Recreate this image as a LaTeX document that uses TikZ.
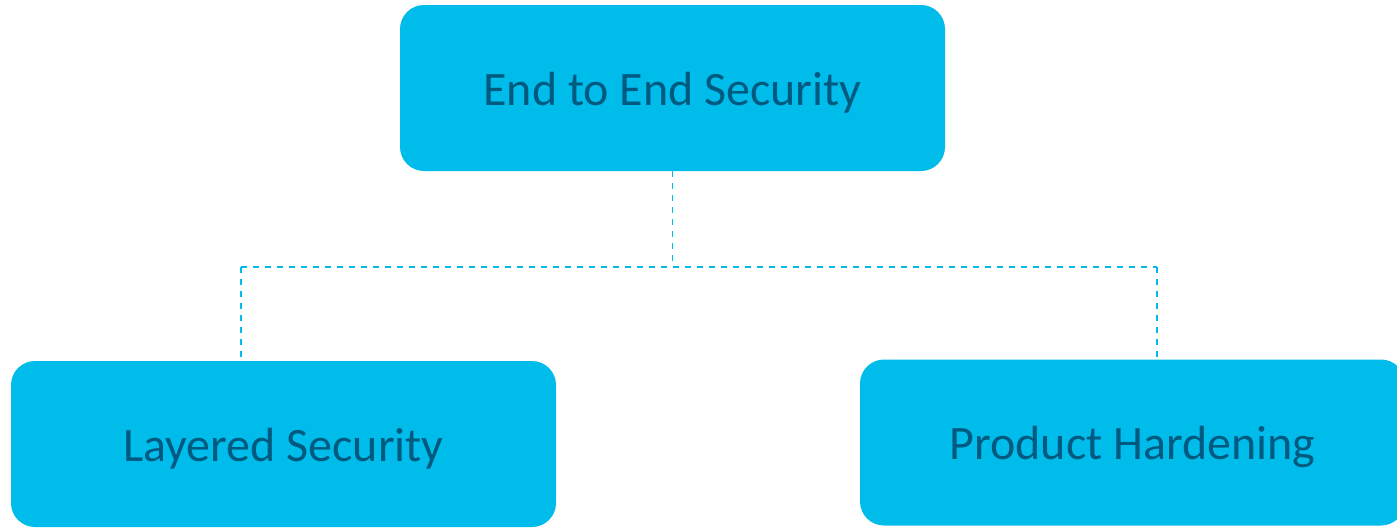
\documentclass[tikz,border=0pt]{standalone}
\usepackage{fontspec}
\setmainfont{Carlito}
\usepackage{tikz}

\definecolor{boxblue}{HTML}{00BCEB}
\definecolor{textblue}{HTML}{005A80}

\tikzset{
  secbox/.style={draw=none, fill=boxblue, rounded corners=12pt,
    minimum width=272.5pt, minimum height=83pt, inner sep=0pt,
    text height=22pt, text depth=5pt,
    text=textblue, font=\fontsize{24}{28}\selectfont},
  link/.style={draw=boxblue, dashed, line width=0.6pt}
}

\begin{document}
\begin{tikzpicture}[x=0.5pt, y=-0.5pt]
% Fix the page size
\useasboundingbox (0,0) rectangle (1397,527);
% Draw the top box
\node[secbox] (e2e) at (672.5,88) {End to End Security};
% Draw the two lower boxes
\node[secbox] (layered) at (283.5,444) {Layered Security};
\node[secbox] (hardening) at (1132.5,442.5) {Product Hardening};
% Points where the tree branches
\coordinate (mid) at (672.5,267);
\coordinate (left) at (241,267);
\coordinate (right) at (1157,267);
% Draw the dashed tree
\draw[link] (e2e.south) -- (mid);
\draw[link] (left) -- (right);
\draw[link] (left) -- (left |- layered.north);
\draw[link] (right) -- (right |- hardening.north);
\end{tikzpicture}
\end{document}
